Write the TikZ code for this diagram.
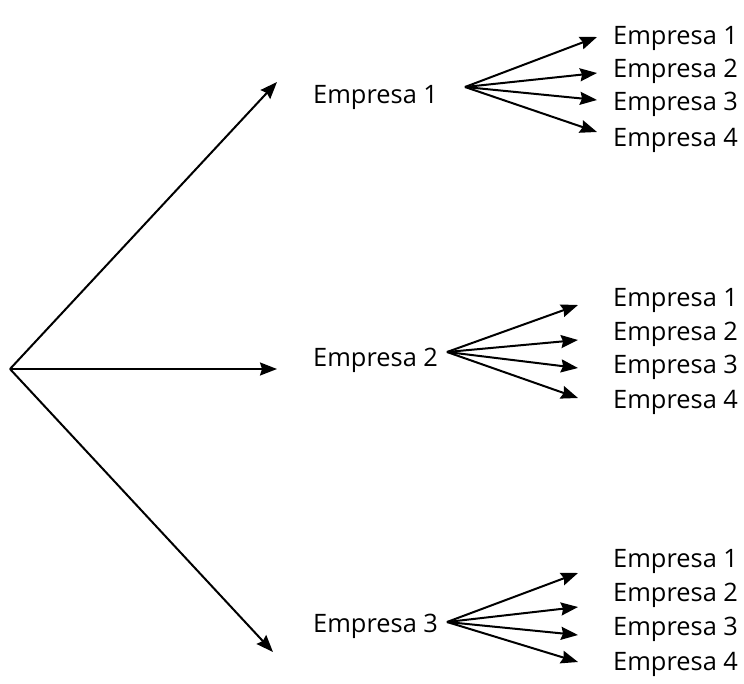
\documentclass[tikz,border=0pt]{standalone}
\usepackage{fontspec}
\setmainfont{Open Sans}
\usetikzlibrary{arrows.meta}

\begin{document}
\begin{tikzpicture}[x=1bp,y=-1bp,
  lbl/.style={anchor=base west,inner sep=0pt,font=\fontsize{25.5}{30}\selectfont},
  arr/.style={line width=2bp,-{Stealth[length=17bp,width=13bp,inset=2bp]}}]
\useasboundingbox (0,0) rectangle (744,684);

\coordinate (root) at (10,369);
\coordinate (t1) at (277,82);
\coordinate (t2) at (277,369);
\coordinate (t3) at (273,652);
\draw[arr] (root) -- (t1);
\draw[arr] (root) -- (t2);
\draw[arr] (root) -- (t3);

\node[lbl] (e1) at (313,104) {Empresa 1};
\node[lbl] (e2) at (313,366) {Empresa 2};
\node[lbl] (e3) at (313,632) {Empresa 3};

% first branch
\coordinate (o1) at (465,87);
\coordinate (t1a) at (597,37);
\coordinate (t1b) at (597,73);
\coordinate (t1c) at (597,100);
\coordinate (t1d) at (597,132);
\draw[arr] (o1) -- (t1a);
\draw[arr] (o1) -- (t1b);
\draw[arr] (o1) -- (t1c);
\draw[arr] (o1) -- (t1d);
\node[lbl] (e1a) at (613,45) {Empresa 1};
\node[lbl] (e1b) at (613,78) {Empresa 2};
\node[lbl] (e1c) at (613,111) {Empresa 3};
\node[lbl] (e1d) at (613,147) {Empresa 4};

% second branch
\coordinate (o2) at (447,352);
\coordinate (t2a) at (578,305);
\coordinate (t2b) at (578,340);
\coordinate (t2c) at (578,368);
\coordinate (t2d) at (578,398);
\draw[arr] (o2) -- (t2a);
\draw[arr] (o2) -- (t2b);
\draw[arr] (o2) -- (t2c);
\draw[arr] (o2) -- (t2d);
\node[lbl] (e2a) at (613,306) {Empresa 1};
\node[lbl] (e2b) at (613,340) {Empresa 2};
\node[lbl] (e2c) at (613,373) {Empresa 3};
\node[lbl] (e2d) at (613,408) {Empresa 4};

% third branch
\coordinate (o3) at (447,622);
\coordinate (t3a) at (578,573);
\coordinate (t3b) at (578,607);
\coordinate (t3c) at (578,635);
\coordinate (t3d) at (578,662);
\draw[arr] (o3) -- (t3a);
\draw[arr] (o3) -- (t3b);
\draw[arr] (o3) -- (t3c);
\draw[arr] (o3) -- (t3d);
\node[lbl] (e3a) at (613,567) {Empresa 1};
\node[lbl] (e3b) at (613,601) {Empresa 2};
\node[lbl] (e3c) at (613,635) {Empresa 3};
\node[lbl] (e3d) at (613,670) {Empresa 4};
\end{tikzpicture}
\end{document}
